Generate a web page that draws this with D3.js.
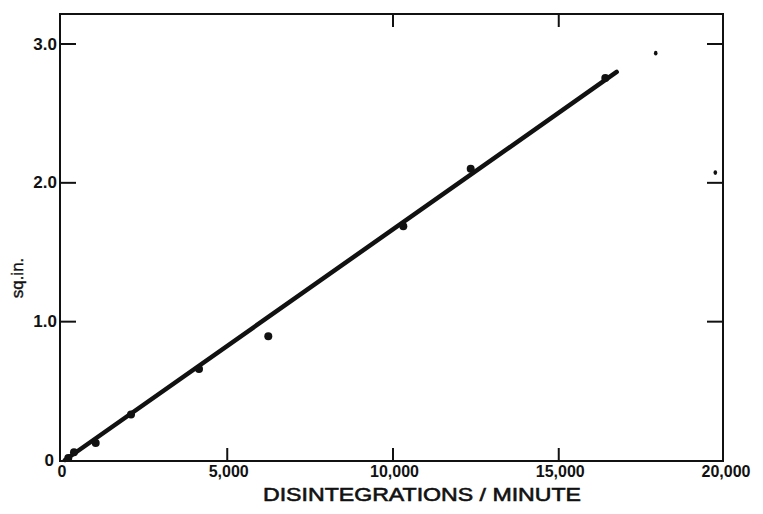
<!DOCTYPE html>
<html>
<head>
<meta charset="utf-8">
<script src="https://cdn.jsdelivr.net/npm/d3@7"></script>
<style>
  body { margin: 0; background: #fff; }
  text { font-family: "Liberation Sans", Arial, sans-serif; fill: #111; }
</style>
</head>
<body>
<script>
// measured points (disintegrations/min, sq. in.)
var dpm = [220, 392, 1047, 2112, 4163, 6253, 10326, 12359, 16419];
var area = [0.014, 0.055, 0.123, 0.327, 0.656, 0.891, 1.684, 2.098, 2.751];

// fitted line end points
var fitX = [120, 16763];
var fitY = [0, 2.795];

// specks on the original print
var speckX = [17940, 19738];
var speckY = [2.93, 2.07];

var xTicks = [0, 5000, 10000, 15000, 20000];
var xTickLabels = ["0", "5,000", "10,000", "15,000", "20,000"];
var yTicks = [0, 1, 2, 3];
var yTickLabels = ["0", "1.0", "2.0", "3.0"];

var svgWidth = 763;
var svgHeight = 514;

var svg = d3.select("body")
  .append("svg")
  .attr("width", svgWidth)
  .attr("height", svgHeight);

var x = d3.scaleLinear()
  .domain([0, 20000])
  .range([61, 724]);

var y = d3.scaleLinear()
  .domain([0, 3])
  .range([460, 43.5]);

var frameLeft = 60, frameRight = 723, frameTop = 14, frameBottom = 461;

// frame
svg.append("rect")
  .attr("x", frameLeft)
  .attr("y", frameTop)
  .attr("width", frameRight - frameLeft)
  .attr("height", frameBottom - frameTop)
  .attr("fill", "none")
  .attr("stroke", "#111")
  .attr("stroke-width", 2);

// inward ticks, bottom and top
svg.append("g")
  .attr("transform", `translate(0, ${frameBottom})`)
  .call(d3.axisTop(x).tickValues([5000, 10000, 15000]).tickSize(13).tickFormat(""))
  .call(g => g.select(".domain").remove())
  .selectAll("line").attr("stroke", "#111").attr("stroke-width", 2);

svg.append("g")
  .attr("transform", `translate(0, ${frameTop})`)
  .call(d3.axisBottom(x).tickValues([10000, 15000]).tickSize(13).tickFormat(""))
  .call(g => g.select(".domain").remove())
  .selectAll("line").attr("stroke", "#111").attr("stroke-width", 2);

// inward ticks, left and right
svg.append("g")
  .attr("transform", `translate(${frameLeft}, 0)`)
  .call(d3.axisRight(y).tickValues([1, 2, 3]).tickSize(16).tickFormat(""))
  .call(g => g.select(".domain").remove())
  .selectAll("line").attr("stroke", "#111").attr("stroke-width", 2);

svg.append("g")
  .attr("transform", `translate(${frameRight}, 0)`)
  .call(d3.axisLeft(y).tickValues([1, 2, 3]).tickSize(16).tickFormat(""))
  .call(g => g.select(".domain").remove())
  .selectAll("line").attr("stroke", "#111").attr("stroke-width", 2);

// x tick labels
svg.append("g")
  .selectAll("text")
  .data(xTicks)
  .enter()
  .append("text")
  .attr("x", (d, i) => i === 0 ? x(d) + 1 : x(d) + 2)
  .attr("y", 477)
  .attr("text-anchor", "middle")
  .style("font-size", "16px")
  .style("font-weight", "bold")
  .text((d, i) => xTickLabels[i]);

// y tick labels
svg.append("g")
  .selectAll("text")
  .data(yTicks)
  .enter()
  .append("text")
  .attr("x", d => d === 0 ? 54 : 57)
  .attr("y", d => y(d) + 6)
  .attr("text-anchor", "end")
  .style("font-size", "17px")
  .style("font-weight", "bold")
  .text((d, i) => yTickLabels[i]);

// axis titles
svg.append("text")
  .attr("x", 422)
  .attr("y", 501)
  .attr("text-anchor", "middle")
  .attr("textLength", 318)
  .attr("lengthAdjust", "spacingAndGlyphs")
  .attr("stroke", "#111")
  .attr("stroke-width", 0.6)
  .style("font-size", "19px")
  .text("DISINTEGRATIONS / MINUTE");

svg.append("text")
  .attr("transform", "translate(23, 278) rotate(-90)")
  .attr("text-anchor", "middle")
  .attr("stroke", "#111")
  .attr("stroke-width", 0.4)
  .style("font-size", "17px")
  .text("sq.in.");

// fitted line
svg.append("line")
  .attr("x1", x(fitX[0]))
  .attr("y1", y(fitY[0]))
  .attr("x2", x(fitX[1]))
  .attr("y2", y(fitY[1]))
  .attr("stroke", "#111")
  .attr("stroke-width", 4.5)
  .attr("stroke-linecap", "round");

// data points
svg.append("g")
  .selectAll("circle")
  .data(dpm)
  .enter()
  .append("circle")
  .attr("cx", d => x(d))
  .attr("cy", (d, i) => y(area[i]))
  .attr("r", 4)
  .attr("fill", "#111");

// specks
svg.append("g")
  .selectAll("ellipse")
  .data(speckX)
  .enter()
  .append("ellipse")
  .attr("cx", d => x(d))
  .attr("cy", (d, i) => y(speckY[i]))
  .attr("rx", 1.8)
  .attr("ry", 2.4)
  .attr("fill", "#111");
</script>
</body>
</html>
